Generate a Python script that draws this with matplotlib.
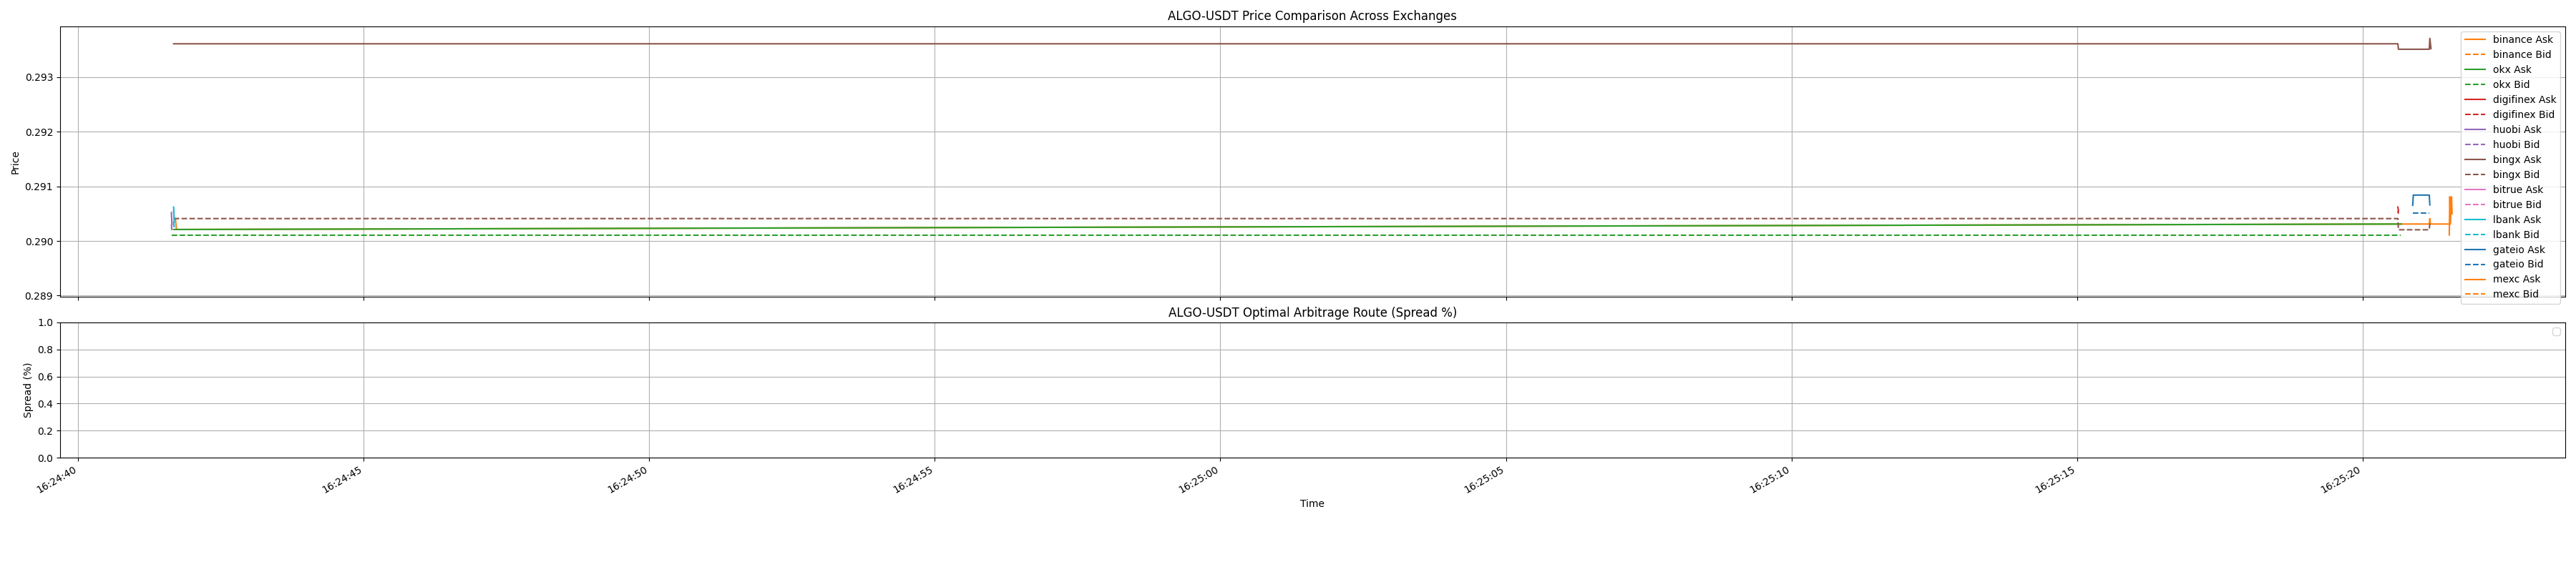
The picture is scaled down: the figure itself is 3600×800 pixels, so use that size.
import pandas as pd
import matplotlib
matplotlib.use("Agg")
import matplotlib.pyplot as plt
import matplotlib.dates as mdates

# seconds after 16:24:40, prices
binance_ask_t = [1.70, 1.72, 40.63, 41.17, 41.18, 41.19, 41.53]
binance_ask = [0.29041, 0.29021, 0.29031, 0.29031, 0.29041, 0.29031, 0.29031]
binance_bid_t = [41.52, 41.53]
binance_bid = [0.29031, 0.29031]

okx_ask_t = [1.67, 40.68]
okx_ask = [0.29021, 0.29031]
okx_bid_t = [1.64, 40.67]
okx_bid = [0.290105, 0.290105]

digifinex_ask_t = [40.62, 40.63]
digifinex_ask = [0.29062, 0.29055]
digifinex_bid_t = [40.62, 40.63]
digifinex_bid = [0.29055, 0.29050]

huobi_ask_t = [1.63, 1.64]
huobi_ask = [0.29052, 0.29030]
huobi_bid_t = [1.63, 1.64]
huobi_bid = [0.29030, 0.29018]

bingx_ask_t = [1.67, 40.62, 40.63, 41.17, 41.18, 41.20]
bingx_ask = [0.29361, 0.29361, 0.29351, 0.29351, 0.29371, 0.29352]
bingx_bid_t = [1.67, 40.62, 40.63, 41.17, 41.18]
bingx_bid = [0.29041, 0.29041, 0.290205, 0.290205, 0.29032]

bitrue_ask_t = [1.67, 1.68]
bitrue_ask = [0.29055, 0.29035]
bitrue_bid_t = [1.67, 1.68]
bitrue_bid = [0.29035, 0.29022]

lbank_ask_t = [1.67, 1.68]
lbank_ask = [0.29062, 0.29035]
lbank_bid_t = [1.67, 1.68]
lbank_bid = [0.29035, 0.29021]

gateio_ask_t = [40.88, 40.89, 41.17, 41.18]
gateio_ask = [0.290653, 0.29084, 0.29084, 0.29066]
gateio_bid_t = [40.88, 41.17]
gateio_bid = [0.290508, 0.290508]

mexc_ask_t = [41.52, 41.53, 41.54, 41.56, 41.57]
mexc_ask = [0.29011, 0.29081, 0.29031, 0.29081, 0.29050]
mexc_bid_t = [41.53, 41.54]
mexc_bid = [0.29031, 0.29031]

exchanges = ["binance", "okx", "digifinex", "huobi", "bingx", "bitrue", "lbank", "gateio", "mexc"]
colors = {"binance": "tab:orange", "okx": "tab:green", "digifinex": "tab:red",
          "huobi": "tab:purple", "bingx": "tab:brown", "bitrue": "tab:pink",
          "lbank": "tab:cyan", "gateio": "tab:blue", "mexc": "tab:orange"}
data = {
    "binance": (binance_ask_t, binance_ask, binance_bid_t, binance_bid),
    "okx": (okx_ask_t, okx_ask, okx_bid_t, okx_bid),
    "digifinex": (digifinex_ask_t, digifinex_ask, digifinex_bid_t, digifinex_bid),
    "huobi": (huobi_ask_t, huobi_ask, huobi_bid_t, huobi_bid),
    "bingx": (bingx_ask_t, bingx_ask, bingx_bid_t, bingx_bid),
    "bitrue": (bitrue_ask_t, bitrue_ask, bitrue_bid_t, bitrue_bid),
    "lbank": (lbank_ask_t, lbank_ask, lbank_bid_t, lbank_bid),
    "gateio": (gateio_ask_t, gateio_ask, gateio_bid_t, gateio_bid),
    "mexc": (mexc_ask_t, mexc_ask, mexc_bid_t, mexc_bid),
}

t0 = pd.Timestamp("2024-01-01 16:24:40")


def to_time(secs):
    return t0 + pd.to_timedelta(secs, unit="s")


fig, (ax1, ax2) = plt.subplots(2, 1, figsize=(36, 8), sharex=True,
                               gridspec_kw={"height_ratios": [2, 1]})
fig.subplots_adjust(left=0.0233, right=0.9958, top=0.954, bottom=0.2, hspace=0.127)

for ex in exchanges:
    at, a, bt, b = data[ex]
    ax1.plot(to_time(at), a, '-', color=colors[ex], label=f"{ex} Ask")
    ax1.plot(to_time(bt), b, '--', color=colors[ex], label=f"{ex} Bid")

ax1.set_ylim(0.28898, 0.29393)
ax1.set_title("ALGO-USDT Price Comparison Across Exchanges")
ax1.set_ylabel("Price")
ax1.legend(loc="upper right")
ax1.grid(True)

ax2.set_title("ALGO-USDT Optimal Arbitrage Route (Spread %)")
ax2.set_ylabel("Spread (%)")
ax2.set_xlabel("Time")
ax2.legend(loc="upper right")
ax2.grid(True)

ax2.xaxis.set_major_locator(mdates.SecondLocator(bysecond=range(0, 60, 5)))
ax2.xaxis.set_major_formatter(mdates.DateFormatter("%H:%M:%S"))
ax2.set_xlim(to_time(-0.32), to_time(43.55))
for lbl in ax2.get_xticklabels():
    lbl.set_rotation(30)
    lbl.set_ha("right")

fig.savefig("out.png", dpi=100)
